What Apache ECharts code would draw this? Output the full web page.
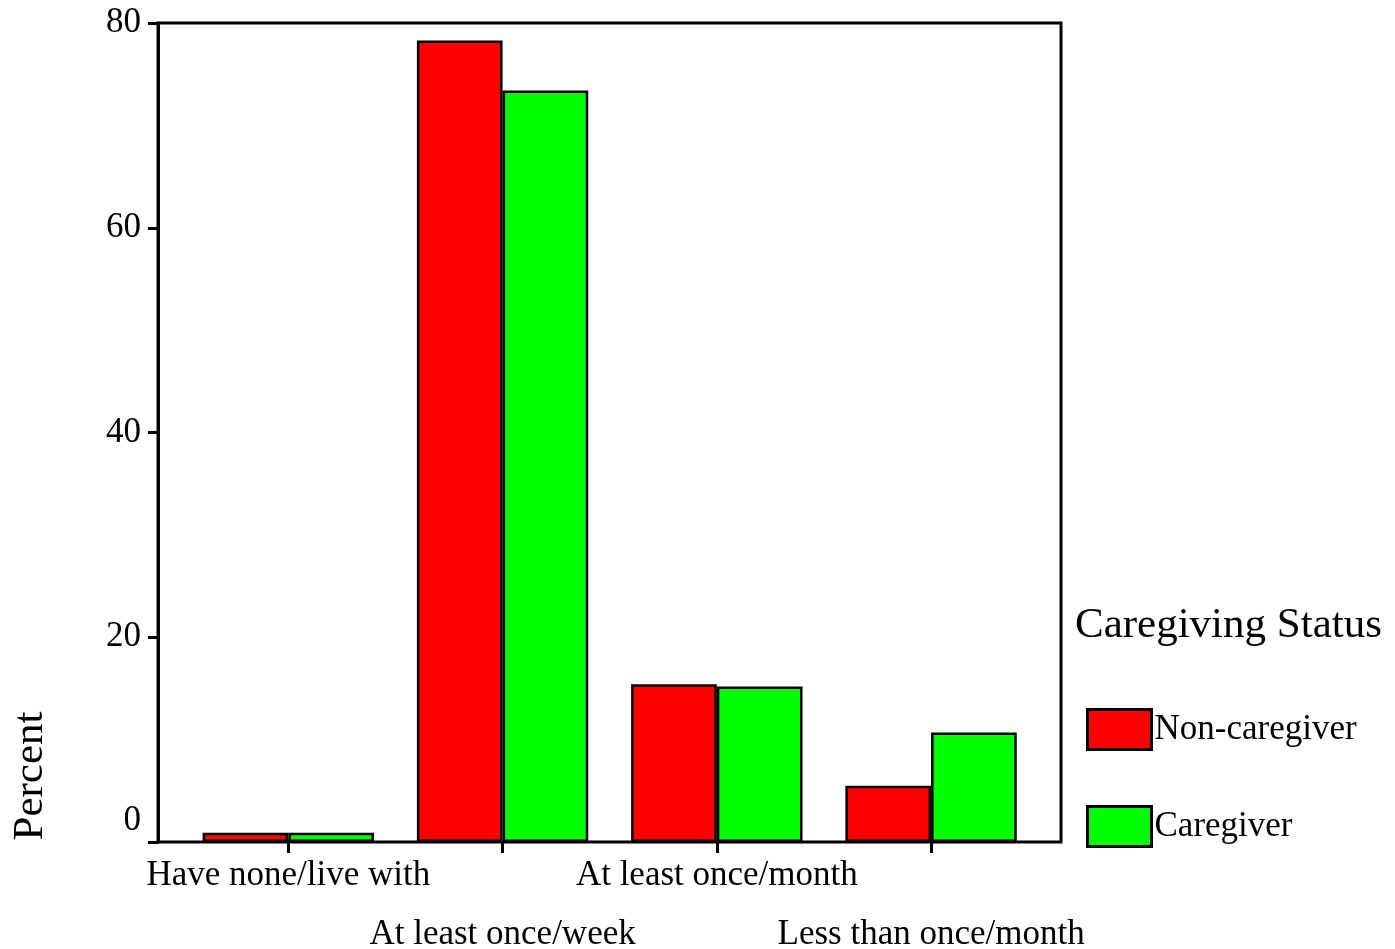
<!DOCTYPE html>
<html>
<head>
<meta charset="utf-8">
<script src="https://cdn.jsdelivr.net/npm/echarts@6/dist/echarts.min.js"></script>
<style>
html,body{margin:0;padding:0;background:#fff;}
#chart{width:1395px;height:949px;}
</style>
</head>
<body>
<div id="chart"></div>
<script>
const categories = ['Have none/live with', 'At least once/week', 'At least once/month', 'Less than once/month'];
const nonCaregiver = [0.9, 78.3, 15.4, 5.5];
const caregiver = [0.9, 73.4, 15.2, 10.7];
const yTicks = [0, 20, 40, 60, 80];

const FONT = '"Liberation Serif", "Times New Roman", serif';
const chart = echarts.init(document.getElementById('chart'));
chart.setOption({
  backgroundColor: '#fff',
  animation: false,
  title: {
    text: 'Caregiving Status',
    left: 1075, top: 604, padding: 0,
    textStyle: {fontFamily: FONT, fontSize: 43, fontWeight: 'normal', color: '#000'}
  },
  legend: {
    orient: 'vertical',
    left: 1086, top: 708,
    itemWidth: 64, itemHeight: 40, itemGap: 54,
    icon: 'rect',
    padding: 0,
    itemStyle: {borderColor: '#000', borderWidth: 3},
    textStyle: {fontFamily: FONT, fontSize: 35, color: '#000', padding: [0, 0, 0, -2]},
    data: ['Non-caregiver', 'Caregiver']
  },
  graphic: [{
    type: 'text', x: 31, y: 776, rotation: Math.PI / 2,
    style: {text: 'Percent', font: '43px ' + FONT, fill: '#000', align: 'center', verticalAlign: 'middle'}
  }],
  grid: [
    {left: 158, top: 23, width: 903, height: 819, show: true, borderColor: '#000', borderWidth: 3,
      backgroundColor: 'transparent', containLabel: false, outerBoundsMode: 'none'},
    {left: 181.2, top: 23, width: 857, height: 819, show: false, containLabel: false, outerBoundsMode: 'none'}
  ],
  xAxis: [
    {gridIndex: 0, type: 'category', data: [], show: false},
    {gridIndex: 1, type: 'category', data: categories,
      axisLine: {show: false},
      axisTick: {show: true, alignWithLabel: true, length: 11, lineStyle: {color: '#000', width: 3}},
      axisLabel: {interval: 0, margin: 4, fontFamily: FONT, fontSize: 35, color: '#000', lineHeight: 59,
        hideOverlap: false,
        formatter: (v, i) => (i % 2 ? '\n' + v : v)}
    }
  ],
  yAxis: [
    {gridIndex: 0, type: 'value', min: yTicks[0], max: yTicks[yTicks.length - 1], interval: yTicks[1] - yTicks[0],
      axisLine: {show: true, lineStyle: {color: '#000', width: 3}},
      axisTick: {show: true, length: 10, lineStyle: {color: '#000', width: 3}},
      splitLine: {show: false},
      axisLabel: {margin: 17, fontFamily: FONT, fontSize: 35, color: '#000',
        formatter: v => (v === 0 ? '{z|0}' : String(v)),
        rich: {z: {fontFamily: FONT, fontSize: 35, color: '#000', padding: [0, 0, 42, 0]}}}
    },
    {gridIndex: 1, type: 'value', min: yTicks[0], max: yTicks[yTicks.length - 1], show: false}
  ],
  series: [
    {name: 'Non-caregiver', type: 'bar', xAxisIndex: 1, yAxisIndex: 1, data: nonCaregiver,
      barGap: '0%', barCategoryGap: '20%',
      itemStyle: {color: '#ff0000', borderColor: '#000', borderWidth: 2.5}},
    {name: 'Caregiver', type: 'bar', xAxisIndex: 1, yAxisIndex: 1, data: caregiver,
      barGap: '0%', barCategoryGap: '20%',
      itemStyle: {color: '#00ff00', borderColor: '#000', borderWidth: 2.5}}
  ]
});
</script>
</body>
</html>
